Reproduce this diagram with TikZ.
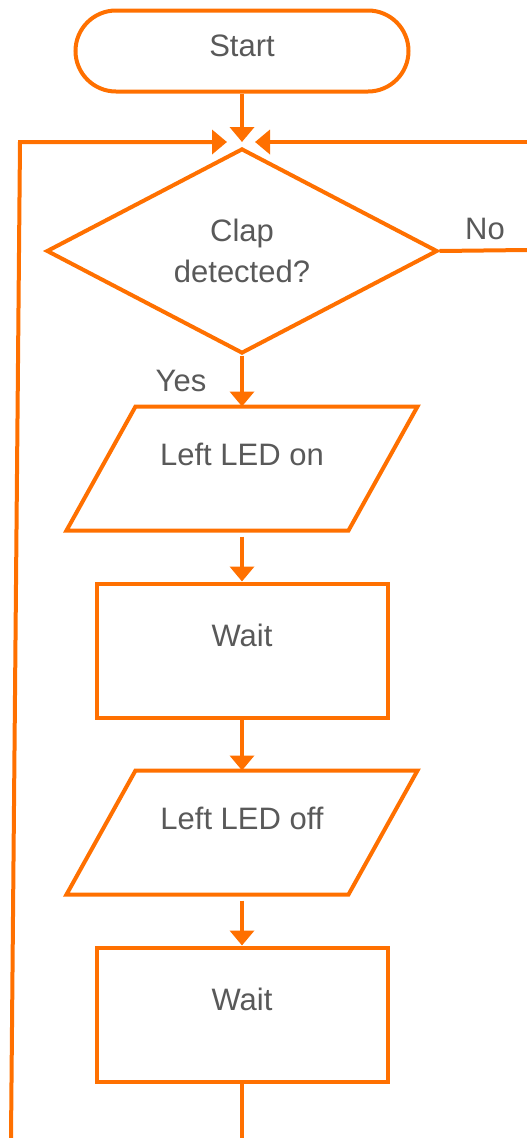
\documentclass[tikz,border=0pt]{standalone}
\usepackage{fontspec}
\setmainfont{Liberation Sans}
\usetikzlibrary{positioning,shapes.geometric,shapes.misc,arrows.meta}
\definecolor{flow}{HTML}{FF7000}
\definecolor{txt}{HTML}{595959}
\newcommand{\ioframe}[1]{\draw[ln] ([xshift=34.5pt]#1.north west) --
	([xshift=34.5pt]#1.north east) -- ([xshift=-34.5pt]#1.south east) --
	([xshift=-34.5pt]#1.south west) -- cycle;}

\begin{document}
\begin{tikzpicture}[x=1pt, y=-1pt, node distance=49pt,
	every node/.style={text=txt, font=\fontsize{31}{41}\selectfont},
	box/.style={draw=flow, line width=4pt, align=center, inner sep=0pt, text height=23pt},
	term/.style={box, rounded rectangle, minimum width=333pt, minimum height=81pt, text depth=12pt},
	dec/.style={box, diamond, aspect=1.9, minimum width=391pt, minimum height=205pt, text height=},
	io/.style={box, draw=none, rectangle, outer sep=2pt, minimum width=278pt,
		minimum height=120pt, text depth=29pt},
	proc/.style={box, rectangle, minimum width=291pt, minimum height=134pt, text depth=31pt},
	ln/.style={draw=flow, line width=4pt},
	arr/.style={ln, -{Triangle[width=24pt,length=15pt]}}]
	\useasboundingbox (0,0) rectangle (527,1138);

	\node[term] (start) at (242,51) {Start};
	\node[dec, below=53pt of start] (clap) {Clap\\detected?};
	\node[io, below=51pt of clap] (ledon) {Left LED on};
	\node[proc, below=51pt of ledon] (wait1) {Wait};
	\node[io, below=51pt of wait1] (ledoff) {Left LED off};
	\node[proc, below=51pt of ledoff] (wait2) {Wait};
	\ioframe{ledon}
	\ioframe{ledoff}

	\node (yes) at (181,381) {Yes};
	\node (no) at (485,229) {No};

	% meeting point above the decision
	\coordinate (mtop) at (242,142);
	\coordinate (mleft) at (227,142);
	\coordinate (mright) at (255,142);
	\coordinate (loopbot) at (11,1138);
	\coordinate (loopturn) at (20,142);
	\coordinate (noend) at (527,250);
	\coordinate (backin) at (527,142);
	\coordinate (outbot) at (243,1138);

	\draw[arr] (start.south) -- (mtop);
	\draw[arr] (loopbot) -- (loopturn) -- (mleft);
	\draw[arr] (backin) -- (mright);
	\draw[ln] (clap.east) -- (noend);
	\draw[arr] (clap.south) -- (ledon.north);
	\draw[arr, shorten <=6pt] (ledon.south) -- (wait1.north);
	\draw[arr] (wait1.south) -- (ledoff.north);
	\draw[arr, shorten <=6pt] (ledoff.south) -- (wait2.north);
	\draw[ln] (wait2.south) -- (wait2.south |- outbot);
\end{tikzpicture}
\end{document}
